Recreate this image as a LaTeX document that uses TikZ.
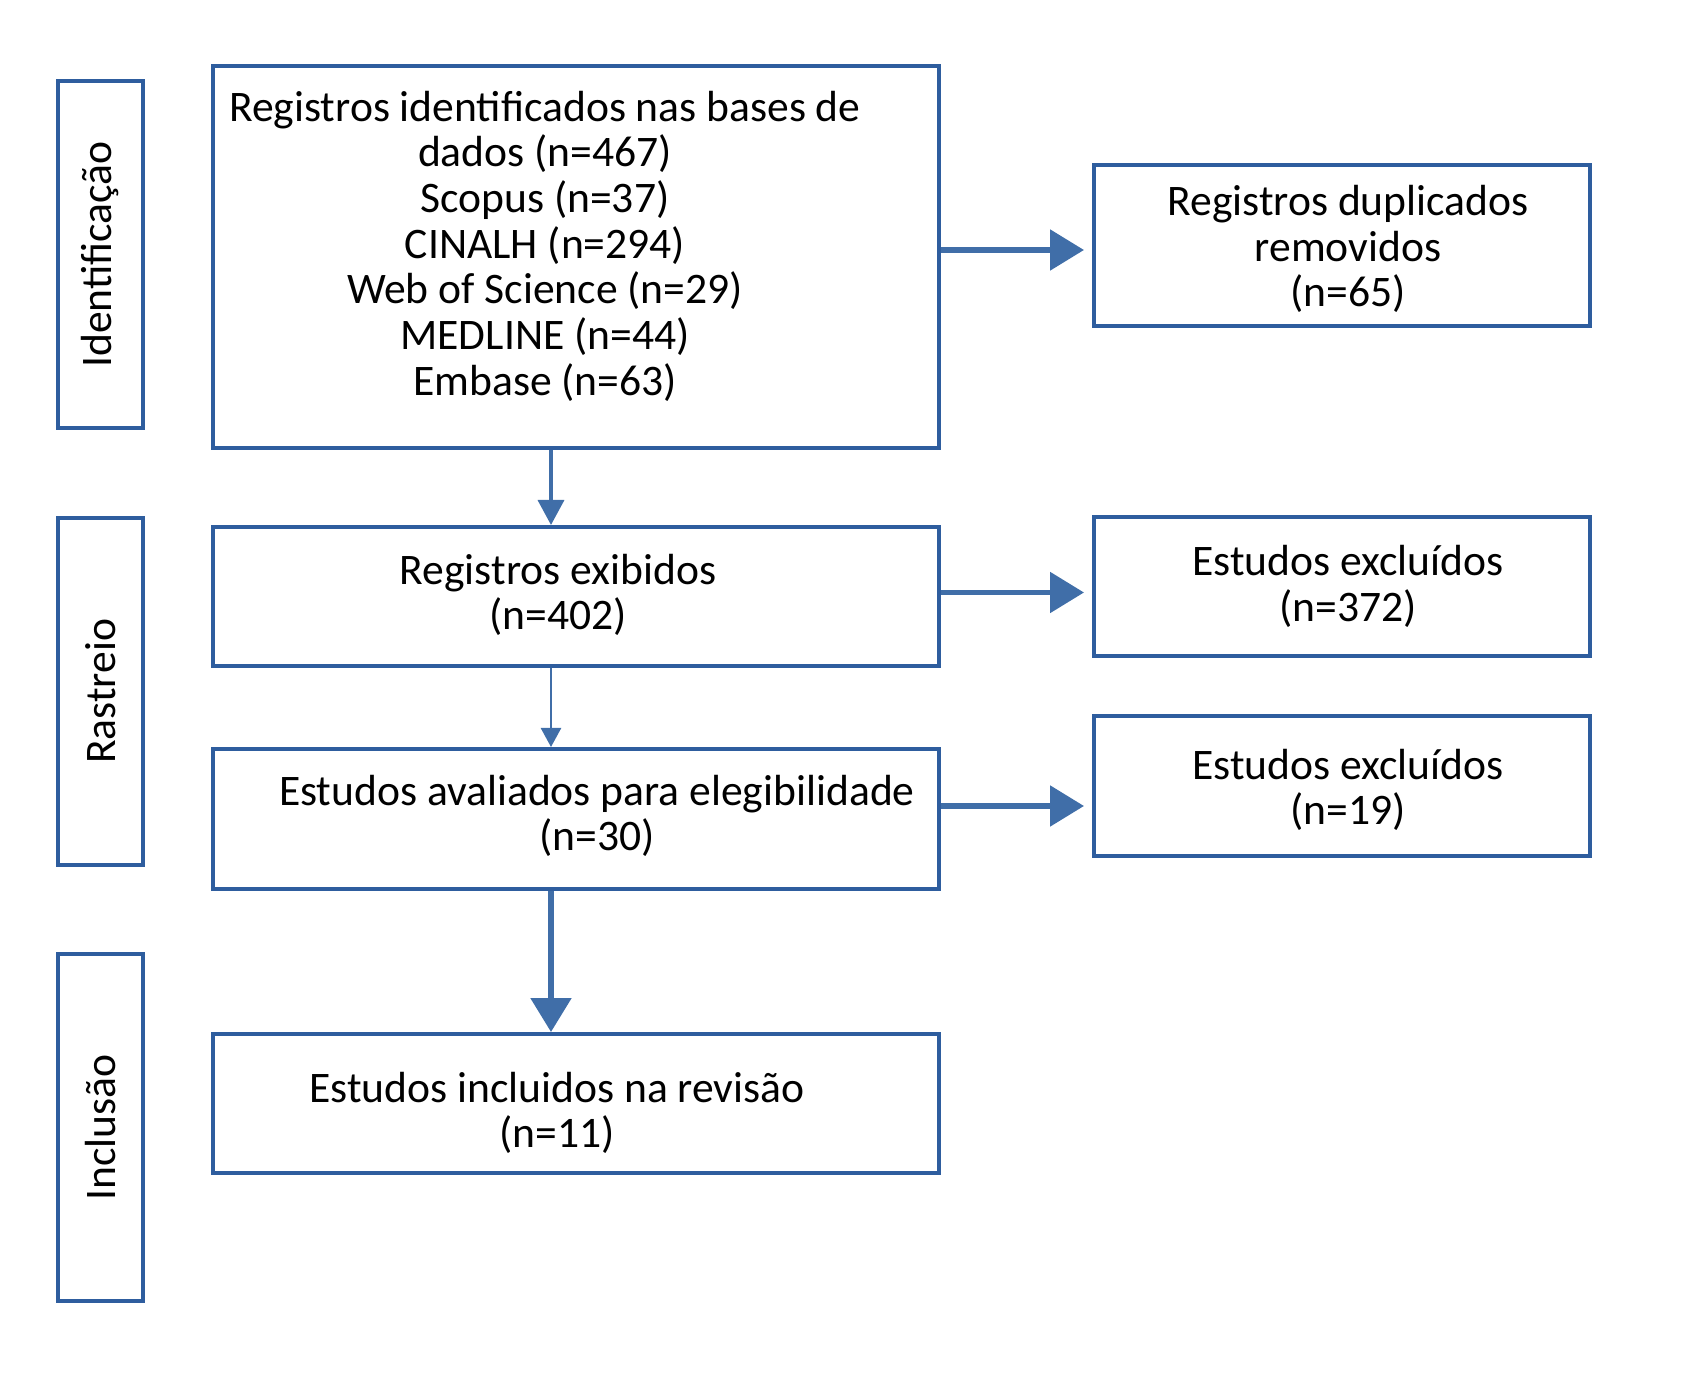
\documentclass[tikz,border=0pt]{standalone}
\usepackage{fontspec}
\setmainfont{Carlito}
\usetikzlibrary{arrows.meta,calc}

\definecolor{boxblue}{RGB}{46,93,158}
\definecolor{arrowblue}{RGB}{64,110,168}

\tikzset{
  base/.style={draw=boxblue, line width=0.4mm, inner sep=0pt},
  stagebox/.style={base, rotate=90, minimum width=34.7mm, minimum height=8.5mm,
    font=\fontsize{12.4}{13}\selectfont},
  mainbox/.style={base, minimum width=72.6mm},
  sidebox/.style={base, minimum width=49.6mm},
  txt/.style={align=center, inner sep=0pt, font=\fontsize{12.4}{13}\selectfont},
  thinarrow/.style={arrowblue, line width=0.35mm, -{Triangle[length=2.5mm,width=2.6mm]}},
  smallarrow/.style={arrowblue, line width=0.25mm, -{Triangle[length=1.9mm,width=2.0mm]}},
  bigarrow/.style={arrowblue, line width=0.55mm, -{Triangle[length=3.4mm,width=4.0mm]}},
}

\begin{document}
\begin{tikzpicture}[x=0.1mm, y=-0.1mm]
			\useasboundingbox (0,0) rectangle (1689,1379);
			
			% Stages
			\node[stagebox] (ident) at (100.5,254.5) {Identificação};
			\node[stagebox] (rastr) at (100.5,691.5) {Rastreio};
			\node[stagebox] (inclu) at (100.5,1127.5) {Inclusão};
			
			% Main column
			\node[mainbox, minimum height=38.2mm] (box1) at (576,257) {};
			\node[mainbox, minimum height=13.9mm] (box2) at (576,596.5) {};
			\node[mainbox, minimum height=14.0mm] (box3) at (576,819) {};
			\node[mainbox, minimum height=13.9mm] (box4) at (576,1103.5) {};
			
			\node[txt] (t1) at (545,246) {Registros identificados nas bases de\\dados (n=467)\\Scopus (n=37)\\CINALH (n=294)\\Web of Science (n=29)\\MEDLINE (n=44)\\Embase (n=63)};
			\node[txt] (t2) at (558,595) {Registros exibidos\\(n=402)};
			\node[txt] (t3) at (597,816) {Estudos avaliados para elegibilidade\\(n=30)};
			\node[txt] (t4) at (557,1113) {Estudos incluidos na revisão\\(n=11)};
			
			% Right column
			\node[sidebox, minimum height=16.1mm] (r1) at (1342,245.5) {};
			\node[sidebox, minimum height=13.9mm] (r2) at (1342,586.5) {};
			\node[sidebox, minimum height=14.0mm] (r3) at (1342,786) {};
			
			\node[txt] (s1) at (1348,249) {Registros duplicados\\removidos\\(n=65)};
			\node[txt] (s2) at (1348,586.5) {Estudos excluídos\\(n=372)};
			\node[txt] (s3) at (1348,790) {Estudos excluídos\\(n=19)};
			
			% Arrows
			\draw[thinarrow] ([xshift=-2.5mm]box1.south) -- ([xshift=-2.5mm]box2.north);
			\draw[smallarrow] ([xshift=-2.5mm]box2.south) -- ([xshift=-2.5mm]box3.north);
			\draw[bigarrow] ([xshift=-2.5mm]box3.south) -- ([xshift=-2.5mm]box4.north);
			\draw[bigarrow, shorten >=0.8mm] ([yshift=0.7mm]box1.east) -- ([yshift=0.7mm]box1.east -| r1.west);
			\draw[bigarrow, shorten >=0.8mm] ([yshift=0.4mm]box2.east) -- ([yshift=0.4mm]box2.east -| r2.west);
			\draw[bigarrow, shorten >=0.8mm] ([yshift=1.3mm]box3.east) -- ([yshift=1.3mm]box3.east -| r3.west);
	\end{tikzpicture}
\end{document}
